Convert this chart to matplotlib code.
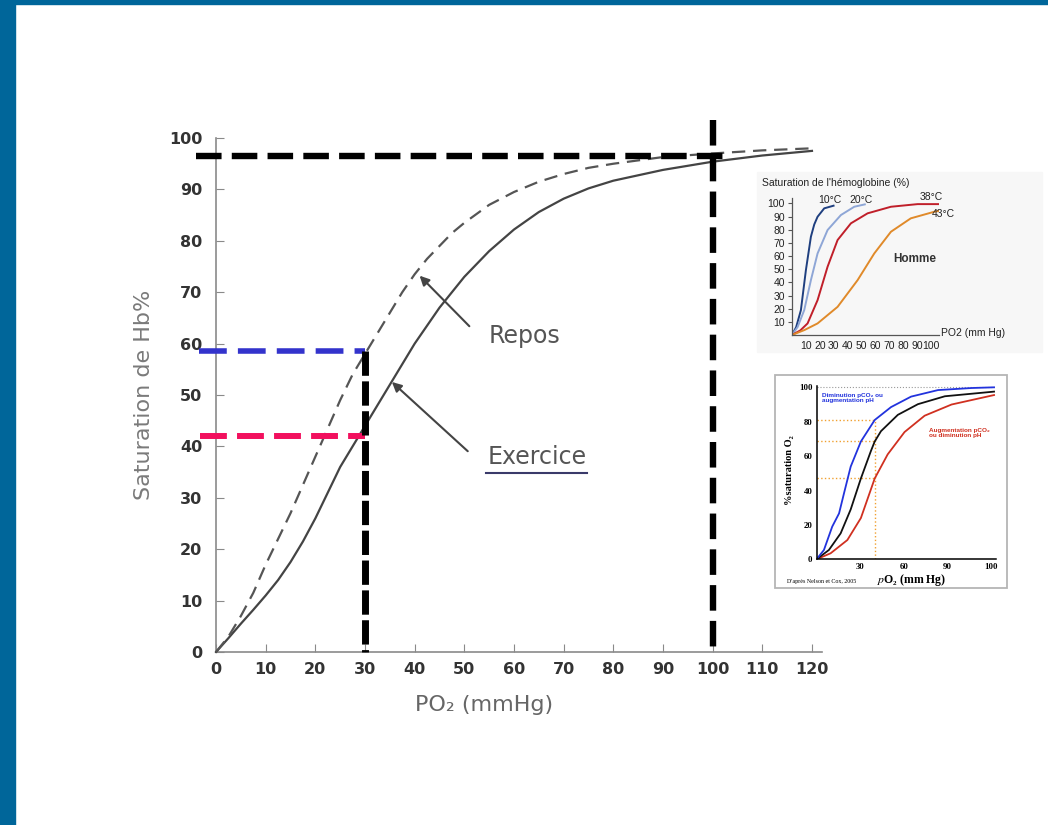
import matplotlib
matplotlib.use("Agg")
import matplotlib.pyplot as plt
from matplotlib.patches import Rectangle
from matplotlib.ticker import FixedLocator, FixedFormatter

plt.rcParams['mathtext.fontset'] = 'stix'

# courbes principales : saturation de l'Hb en fonction de la PO2
po2 = [0, 2.5, 5, 7.5, 10, 12.5, 15, 17.5, 20, 22.5, 25, 27.5, 30, 32.5, 35, 37.5, 40,
       42.5, 45, 47.5, 50, 55, 60, 65, 70, 75, 80, 90, 100, 110, 120]
repos = [0, 3, 7, 11.5, 17, 22, 27, 32.5, 38, 43.5, 49, 54, 58, 62, 66, 70, 73.5,
         76.5, 79, 81.5, 83.5, 87, 89.5, 91.5, 93, 94.2, 95, 96.3, 97, 97.6, 98]
exercice = [0, 2.7, 5.5, 8.2, 11, 14, 17.5, 21.5, 26, 31, 36, 40, 44, 48, 52, 56, 60,
            63.5, 67, 70, 73, 78, 82.2, 85.6, 88.2, 90.2, 91.7, 93.8, 95.4, 96.6, 97.5]

x_ticks = [0, 10, 20, 30, 40, 50, 60, 70, 80, 90, 100, 110, 120]
y_ticks = [0, 10, 20, 30, 40, 50, 60, 70, 80, 90, 100]

# lectures sur le graphe
po2_lu = [30, 100]
sat_repos_30 = 58.5
sat_exo_30 = 42
sat_100 = 96.5

# encart 1 : effet de la température (Homme)
t10_x = [0, 3, 6.4, 10, 13.6, 16, 18.4, 23.2, 29.9]
t10_y = [0, 6, 18.9, 49.3, 74.7, 84, 89.9, 96.3, 98.3]
t20_x = [0, 4, 8.8, 13.6, 18.4, 25.6, 35.2, 44.8, 52.4]
t20_y = [0, 6, 18.9, 41.7, 62, 79.8, 91.2, 97.5, 99.3]
t38_x = [0, 6, 11.2, 18.4, 25.6, 32.8, 42.4, 54.4, 71.2, 90.4, 106]
t38_y = [0, 3.5, 8.8, 26.5, 51.9, 72.2, 84.9, 92.5, 97.5, 99.5, 99.5]
t43_x = [0, 9, 18.4, 32.8, 47.2, 59.2, 71.2, 85.5, 102.4, 106]
t43_y = [0, 3.8, 8.8, 21.4, 41.7, 62, 78.5, 88.7, 93.7, 94.4]
ins1_ticks = [10, 20, 30, 40, 50, 60, 70, 80, 90, 100]

# encart 2 : effet Bohr (d'après Nelson et Cox)
bleu_x = [0, 5.1, 10.8, 15.5, 18.9, 23.5, 30.5, 40, 51.2, 65, 83.5, 106.6, 122]
bleu_y = [0, 5.4, 19, 26.7, 38.4, 53.9, 68.5, 81, 88.5, 94.6, 98.4, 99.6, 100]
noir_x = [0, 8.5, 16.6, 23.5, 30.5, 37.4, 40, 44.3, 55.9, 69.7, 88.2, 122]
noir_y = [0, 5.4, 15.1, 29, 47, 63, 68.5, 74.5, 84, 90.2, 94.8, 97.5]
rouge_x = [0, 9.7, 21.2, 30.5, 40, 48.9, 60.5, 74.3, 92.8, 122]
rouge_y = [0, 3.5, 11.2, 24, 47, 61, 74, 83.5, 90, 95.5]
ins2_ticks = [30, 60, 90, 120]
ins2_labels = ['30', '60', '90', '100']
po2_bohr = 40
sat_bohr = [81, 68.5, 47]

W, H = 1048, 825
fig = plt.figure(figsize=(W / 100, H / 100), dpi=100)


def px_axes(left, top, right, bottom):
    return fig.add_axes([left / W, 1 - bottom / H, (right - left) / W, (bottom - top) / H])


def px_rect(left, top, right, bottom, **kw):
    fig.patches.append(Rectangle((left / W, 1 - bottom / H), (right - left) / W,
                                 (bottom - top) / H, transform=fig.transFigure,
                                 zorder=-1, **kw))


# bandeau bleu
px_rect(0, 0, 15, H, color='#00669a')
px_rect(0, 0, W, 4, color='#00669a')

# ---------- graphe principal ----------
ax = px_axes(191.2, 107.2, 836.8, 667.4)
ax.set_xlim(-5, 125)
ax.set_ylim(-3, 106)
ax.patch.set_alpha(0)
for s in ['top', 'right']:
    ax.spines[s].set_visible(False)
ax.spines['left'].set_position(('data', 0))
ax.spines['bottom'].set_position(('data', 0))
ax.spines['left'].set_bounds(0, 100)
ax.spines['bottom'].set_bounds(0, 122)
for s in ['left', 'bottom']:
    ax.spines[s].set_color('#8a8a8a')
    ax.spines[s].set_linewidth(1.2)
ax.set_xticks(x_ticks)
ax.set_yticks(y_ticks)
ax.tick_params(direction='in', length=6, color='#8a8a8a', labelsize=11.5,
               labelcolor='#333333')
ax.tick_params(axis='y', pad=10)
ax.tick_params(axis='x', pad=7)
for lab in ax.get_xticklabels() + ax.get_yticklabels():
    lab.set_fontweight('bold')

ax.plot(po2, exercice, color='#444444', lw=1.6, zorder=3)
ax.plot(po2, repos, color='#555555', lw=1.6, dashes=(6, 3.5), zorder=3)

ax.annotate('', xy=(40.6, 73.6), xytext=(51.4, 63),
            arrowprops=dict(arrowstyle='-|>', color='#444444', lw=1.5, mutation_scale=14))
ax.annotate('', xy=(35, 52.9), xytext=(51.1, 38.7),
            arrowprops=dict(arrowstyle='-|>', color='#444444', lw=1.5, mutation_scale=14))
ax.text(62.2, 61.5, 'Repos', fontsize=17, color='#555555', ha='center', va='center')
ax.text(64.6, 38.0, 'Exercice', fontsize=17, color='#555555', ha='center', va='center')
ax.plot([54.4, 74.8], [34.9, 34.9], color='#3a3a6a', lw=1.5)

ax.text(-14.5, 50, 'Saturation de Hb%', rotation=90, fontsize=16, color='#7a7a7a',
        ha='center', va='center')
ax.text(54, -10.3, 'PO₂ (mmHg)', fontsize=16, color='#666666', ha='center', va='center')

# traits de lecture
ax.plot([-4, 102.5], [sat_100, sat_100], color='black', lw=4.6, dashes=(4, 1.6), zorder=5)
ax.plot([po2_lu[1], po2_lu[1]], [103.5, 0], color='black', lw=4.6, dashes=(4, 1.6), zorder=5)
ax.plot([po2_lu[0], po2_lu[0]], [sat_repos_30, 0], color='black', lw=5, dashes=(3.5, 0.8), zorder=5)
ax.plot([-3.5, po2_lu[0]], [sat_repos_30, sat_repos_30], color='#3333cc', lw=4, dashes=(5, 2), zorder=4)
ax.plot([-3.3, po2_lu[0]], [sat_exo_30, sat_exo_30], color='#f2105e', lw=4.3, dashes=(4.5, 1.7), zorder=4)

# ---------- encart 1 : température ----------
px_rect(757, 172, 1042, 352, color='#f7f7f7')
a1 = px_axes(792, 198.2, 939.3, 335)
a1.set_xlim(0, 106)
a1.set_ylim(0, 104)
a1.patch.set_alpha(0)
for s in ['top', 'right']:
    a1.spines[s].set_visible(False)
for s in ['left', 'bottom']:
    a1.spines[s].set_color('#555555')
    a1.spines[s].set_linewidth(0.9)
a1.set_xticks(ins1_ticks)
a1.set_yticks(ins1_ticks)
a1.tick_params(axis='y', length=3, color='#555555', labelsize=7.5, pad=2)
a1.tick_params(axis='x', length=0, labelsize=7.5, pad=4)
for lab in a1.get_xticklabels() + a1.get_yticklabels():
    lab.set_family('Liberation Sans')
    lab.set_color('#222222')
a1.plot(t10_x, t10_y, color='#1f3f7f', lw=1.4)
a1.plot(t20_x, t20_y, color='#8ea6d6', lw=1.4)
a1.plot(t38_x, t38_y, color='#c01f2a', lw=1.4)
a1.plot(t43_x, t43_y, color='#e08a2a', lw=1.4)
for txt, x, y in [('10°C', 27.5, 102.5), ('20°C', 49.5, 102.5), ('38°C', 100, 105), ('43°C', 109, 92)]:
    a1.text(x, y, txt, fontsize=7.5, family='Liberation Sans', color='#222222',
            ha='center', va='center', clip_on=False)
a1.text(88.5, 58, 'Homme', fontsize=8.5, family='Liberation Sans', fontweight='bold',
        color='#333333', ha='center', va='center')
fig.text(762 / W, 1 - 183 / H, "Saturation de l'hémoglobine (%)", fontsize=7.5,
         family='Liberation Sans', color='#222222', va='center')
fig.text(941 / W, 1 - 333 / H, 'PO2 (mm Hg)', fontsize=7.5,
         family='Liberation Sans', color='#222222', va='center')

# ---------- encart 2 : effet Bohr ----------
px_rect(775, 375, 1007, 588, facecolor='white', edgecolor='#b5b5b5', lw=1.3)
a2 = px_axes(816.5, 385.6, 995.5, 559.3)
a2.set_xlim(0, 123)
a2.set_ylim(0, 101)
a2.patch.set_alpha(0)
for s in ['top', 'right']:
    a2.spines[s].set_visible(False)
for s in ['left', 'bottom']:
    a2.spines[s].set_linewidth(1.1)
a2.xaxis.set_major_locator(FixedLocator(ins2_ticks))
a2.xaxis.set_major_formatter(FixedFormatter(ins2_labels))
a2.set_yticks([0, 20, 40, 60, 80, 100])
a2.tick_params(length=0, labelsize=6.3, pad=3)
for lab in a2.get_xticklabels() + a2.get_yticklabels():
    lab.set_family(['Liberation Serif', 'DejaVu Serif'])
    lab.set_fontweight('bold')
a2.plot([0, 122], [100, 100], color='#999999', lw=0.8, ls=':')
for s in sat_bohr:
    a2.plot([0, po2_bohr], [s, s], color='#f0a030', lw=1.0, ls=':')
a2.plot([po2_bohr, po2_bohr], [0, sat_bohr[0]], color='#f0a030', lw=1.0, ls=':')
a2.plot(rouge_x, rouge_y, color='#d03020', lw=1.3)
a2.plot(noir_x, noir_y, color='#111111', lw=1.3)
a2.plot(bleu_x, bleu_y, color='#2233dd', lw=1.3)
a2.text(3.8, 96.8, 'Diminution pCO₂ ou\naugmentation pH', fontsize=4.6, fontweight='bold',
        family=['Liberation Sans', 'DejaVu Sans'], color='#2233dd', va='top', linespacing=1.1)
a2.text(77, 76.5, 'Augmentation pCO₂\nou diminution pH', fontsize=4.6, fontweight='bold',
        family=['Liberation Sans', 'DejaVu Sans'], color='#d03020', va='top', linespacing=1.1)
fig.text(790 / W, 1 - 470 / H, '%saturation O₂', rotation=90, fontsize=7.5,
         family=['Liberation Serif', 'DejaVu Serif'], fontweight='bold',
         ha='center', va='center')
fig.text(912 / W, 1 - 580 / H, '$p$O₂ (mm Hg)', fontsize=8.5,
         family=['Liberation Serif', 'DejaVu Serif'], fontweight='bold',
         ha='center', va='center')
fig.text(787 / W, 1 - 581 / H, "D'après Nelson et Cox, 2005", fontsize=4.3,
         family=['Liberation Serif', 'DejaVu Serif'], va='center')

fig.savefig('out.png', dpi=100)
